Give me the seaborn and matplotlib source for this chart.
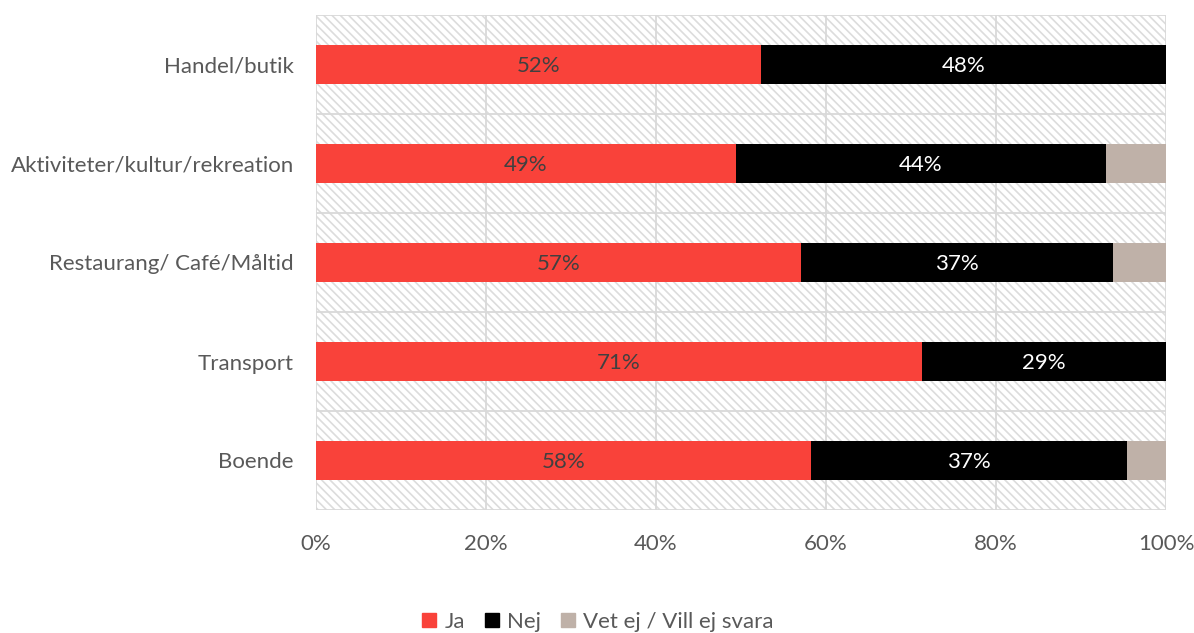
import matplotlib
matplotlib.use("Agg")
import matplotlib.pyplot as plt
from matplotlib.patches import Rectangle
from matplotlib.lines import Line2D
from matplotlib.ticker import PercentFormatter
import seaborn as sns
import pandas as pd
import numpy as np

categories = ["Handel/butik", "Aktiviteter/kultur/rekreation", "Restaurang/ Café/Måltid",
              "Transport", "Boende"]
ja = [52.4, 49.4, 57.1, 71.3, 58.2]
nej = [47.6, 43.5, 36.7, 28.7, 37.2]
vet_ej = [0.0, 7.1, 6.2, 0.0, 4.6]
series_names = ["Ja", "Nej", "Vet ej / Vill ej svara"]
colors = ["#f9423a", "#000000", "#bfb1a8"]
label_colors = ["#404040", "#ffffff", None]
x_ticks = [0, 20, 40, 60, 80, 100]

sns.set_theme(style="white")
plt.rcParams["font.family"] = ["Lato", "DejaVu Sans"]
plt.rcParams["hatch.linewidth"] = 1.2
plt.rcParams["hatch.color"] = "#dcdcdc"

df = pd.DataFrame({"cat": categories, "Ja": ja, "Nej": nej, "Vet": vet_ej})
df["c1"] = df["Ja"]
df["c2"] = df["Ja"] + df["Nej"]
df["c3"] = df["c2"] + df["Vet"]

fig = plt.figure(figsize=(11.94, 6.33), dpi=100)
ax = fig.add_axes([316 / 1194, 1 - 510 / 633, 850 / 1194, 495 / 633])

# hatched plot-area background
ax.add_patch(Rectangle((0, 0), 1, 1, transform=ax.transAxes, facecolor="white",
                       edgecolor="#dcdcdc", hatch="\\\\\\\\", linewidth=0, zorder=0))

# stacked bars drawn back to front from cumulative totals
for col, color in zip(["c3", "c2", "c1"], colors[::-1]):
    sns.barplot(data=df, x=col, y="cat", orient="h", color=color, width=0.4,
                saturation=1, ax=ax, zorder=3, linewidth=0, order=categories)

# value labels
for i, cat in enumerate(categories):
    left = 0.0
    for vals, lc in zip([ja, nej], label_colors[:2]):
        v = vals[i]
        ax.text(left + v / 2, i + 0.02, f"{v:.0f}%", ha="center", va="center",
                color=lc, fontsize=16, zorder=5)
        left += v

ax.set_xlim(0, 100)
ax.set_ylim(len(categories) - 0.5, -0.5)
ax.set_xticks(x_ticks)
ax.xaxis.set_major_formatter(PercentFormatter(decimals=0))
ax.set_xlabel("")
ax.set_ylabel("")

# grid: vertical at ticks, horizontal at category boundaries
for x in x_ticks:
    ax.axvline(x, color="#d9d9d9", linewidth=1.3, zorder=1)
for b in np.arange(-0.5, len(categories), 1.0):
    ax.axhline(b, color="#d9d9d9", linewidth=1.3, zorder=1)

for s in ax.spines.values():
    s.set_visible(False)
ax.tick_params(axis="both", length=0, labelsize=16, labelcolor="#595959")
ax.tick_params(axis="y", pad=16)
ax.tick_params(axis="x", pad=17)

handles = [Line2D([0], [0], marker="s", linestyle="", markersize=10.5,
                  markerfacecolor=c, markeredgecolor=c) for c in colors]
fig.legend(handles, series_names, loc="lower center", bbox_to_anchor=(0.5, -0.03),
           ncol=3, frameon=False, fontsize=16, labelcolor="#595959",
           handletextpad=0.3, columnspacing=0.8, handlelength=0.8)

fig.savefig("out.png", dpi=100)
